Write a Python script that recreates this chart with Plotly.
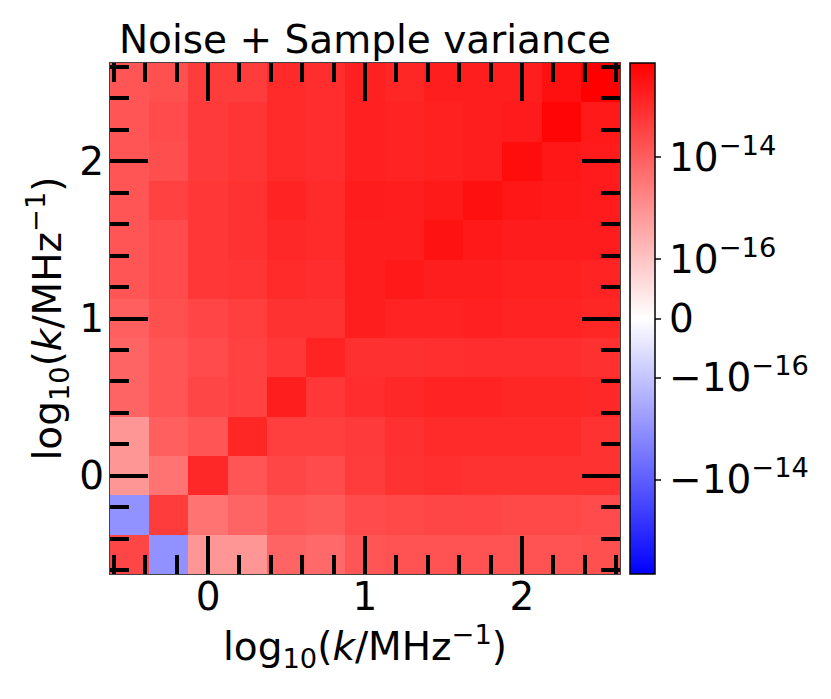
import numpy as np
import plotly.graph_objects as go

k_centres = [-0.5, -0.25, 0.0, 0.25, 0.5, 0.75, 1.0, 1.25, 1.5, 1.75, 2.0, 2.25, 2.5]

# rows listed from the top of the picture down
row_250 = [1.5e-14, 1.9e-14, 4.7e-14, 4.7e-14, 1.06e-13, 9.2e-14, 1.6e-13, 1.27e-13, 1.8e-13, 1.8e-13, 1.8e-13, 3.5e-13, 7.1e-13]
row_225 = [1.5e-14, 2.4e-14, 5.1e-14, 6.7e-14, 1.06e-13, 9.2e-14, 1.6e-13, 1.46e-13, 1.65e-13, 1.8e-13, 2.1e-13, 5.6e-13, 2.3e-13]
row_200 = [1.5e-14, 2.1e-14, 5.1e-14, 6.7e-14, 1.06e-13, 9.2e-14, 1.6e-13, 1.46e-13, 1.65e-13, 1.8e-13, 4.0e-13, 2.6e-13, 2.1e-13]
row_175 = [1.5e-14, 3.7e-14, 5.9e-14, 7.4e-14, 1.46e-13, 1.0e-13, 2.0e-13, 1.8e-13, 2.2e-13, 3.5e-13, 2.5e-13, 2.3e-13, 2.1e-13]
row_150 = [1.5e-14, 2.4e-14, 5.9e-14, 7.4e-14, 1.16e-13, 1.06e-13, 1.8e-13, 1.8e-13, 3.1e-13, 2.3e-13, 2.0e-13, 2.0e-13, 2.0e-13]
row_125 = [1.5e-14, 2.4e-14, 5.9e-14, 6.7e-14, 1.06e-13, 9.2e-14, 1.8e-13, 2.3e-13, 1.8e-13, 1.8e-13, 1.65e-13, 1.65e-13, 1.46e-13]
row_100 = [9.6e-15, 1.9e-14, 3.2e-14, 4.3e-14, 7.4e-14, 7.4e-14, 1.8e-13, 1.46e-13, 1.46e-13, 1.6e-13, 1.46e-13, 1.46e-13, 1.27e-13]
row_075 = [7.7e-15, 1.5e-14, 2.4e-14, 3.7e-14, 5.9e-14, 1.46e-13, 8.0e-14, 8.0e-14, 8.4e-14, 9.2e-14, 9.2e-14, 9.2e-14, 8.0e-14]
row_050 = [7.7e-15, 1.5e-14, 3.0e-14, 3.7e-14, 1.8e-13, 5.9e-14, 9.2e-14, 1.16e-13, 1.46e-13, 1.46e-13, 1.27e-13, 1.27e-13, 1.16e-13]
row_025 = [8e-16, 9.6e-15, 1.5e-14, 1.27e-13, 4.3e-14, 4.3e-14, 5.1e-14, 8.0e-14, 1.0e-13, 1.0e-13, 1.0e-13, 1.0e-13, 7.4e-14]
row_000 = [8e-16, 3.9e-15, 1.16e-13, 1.5e-14, 3.0e-14, 2.4e-14, 4.7e-14, 7.4e-14, 8.4e-14, 7.4e-14, 7.4e-14, 7.4e-14, 7.4e-14]
row_m25 = [-1e-15, 4.7e-14, 3.9e-15, 7.7e-15, 1.5e-14, 1.2e-14, 2.4e-14, 2.7e-14, 3.0e-14, 3.2e-14, 2.7e-14, 2.7e-14, 2.4e-14]
row_m50 = [3.0e-14, -1e-15, 8e-16, 8e-16, 7.7e-15, 6.1e-15, 1.5e-14, 1.7e-14, 1.7e-14, 1.7e-14, 1.7e-14, 1.7e-14, 1.9e-14]

rows = [row_m50, row_m25, row_000, row_025, row_050, row_075, row_100,
        row_125, row_150, row_175, row_200, row_225, row_250]

cbar_values = [1e-14, 1e-16, 0, -1e-16, -1e-14]
cbar_labels = ["10<sup>\u221214</sup>", "10<sup>\u221216</sup>", "0",
               "\u221210<sup>\u221216</sup>", "\u221210<sup>\u221214</sup>"]
vmax = 7.1e-13
linthresh = 1e-16
linscale = 1.157


def symlog(v):
    v = np.asarray(v, dtype=float)
    a = np.abs(v)
    small = a <= linthresh
    out = np.where(small, a / linthresh * linscale,
                   linscale + np.log10(np.maximum(a, linthresh) / linthresh))
    return np.sign(v) * out


FONT = "DejaVu Sans"
SIZE = 39

fig = go.Figure(go.Heatmap(
    x=k_centres,
    y=k_centres,
    z=symlog(rows).tolist(),
    zmin=-float(symlog(vmax)),
    zmax=float(symlog(vmax)),
    colorscale=[[0, "#0000ff"], [0.5, "#ffffff"], [1, "#ff0000"]],
    colorbar=dict(
        x=1.02,
        xanchor="left",
        xpad=0,
        y=0.5,
        yanchor="middle",
        len=1,
        ypad=0,
        thickness=25,
        outlinewidth=1.5,
        outlinecolor="black",
        tickmode="array",
        tickvals=symlog(cbar_values).tolist(),
        ticktext=cbar_labels,
        ticks="outside",
        ticklen=6,
        tickwidth=1.5,
        tickfont=dict(family=FONT, size=SIZE, color="black"),
    ),
))

axis_style = dict(
    range=[-0.625, 2.625],
    tick0=0,
    dtick=1,
    ticks="inside",
    ticklen=38,
    tickwidth=3.5,
    tickcolor="black",
    minor=dict(tick0=0, dtick=0.2, ticks="inside", ticklen=19, tickwidth=3.5, tickcolor="black"),
    showline=True,
    linecolor="#444444",
    linewidth=1.2,
    mirror="ticks",
    showgrid=False,
    zeroline=False,
    tickfont=dict(family=FONT, size=SIZE, color="black"),
)

axis_title = "log<sub>10</sub>(<i>k</i>/MHz<sup>\u22121</sup>)"

fig.update_layout(
    width=815,
    height=680,
    margin=dict(l=102, r=203, t=55, b=114),
    paper_bgcolor="white",
    plot_bgcolor="white",
    font=dict(family=FONT, size=SIZE, color="black"),
    title=dict(text="Noise + Sample variance", x=0.5, xref="paper", xanchor="center",
               y=1, yref="paper", yanchor="bottom", pad=dict(b=10),
               font=dict(family=FONT, size=SIZE, color="black")),
    xaxis=dict(axis_style, ticklabelstandoff=-12, title=dict(text=axis_title, standoff=14, font=dict(family=FONT, size=SIZE))),
    yaxis=dict(axis_style, ticklabelstandoff=-3, title=dict(text=axis_title, standoff=5, font=dict(family=FONT, size=SIZE))),
)

fig.write_html("out.html")
